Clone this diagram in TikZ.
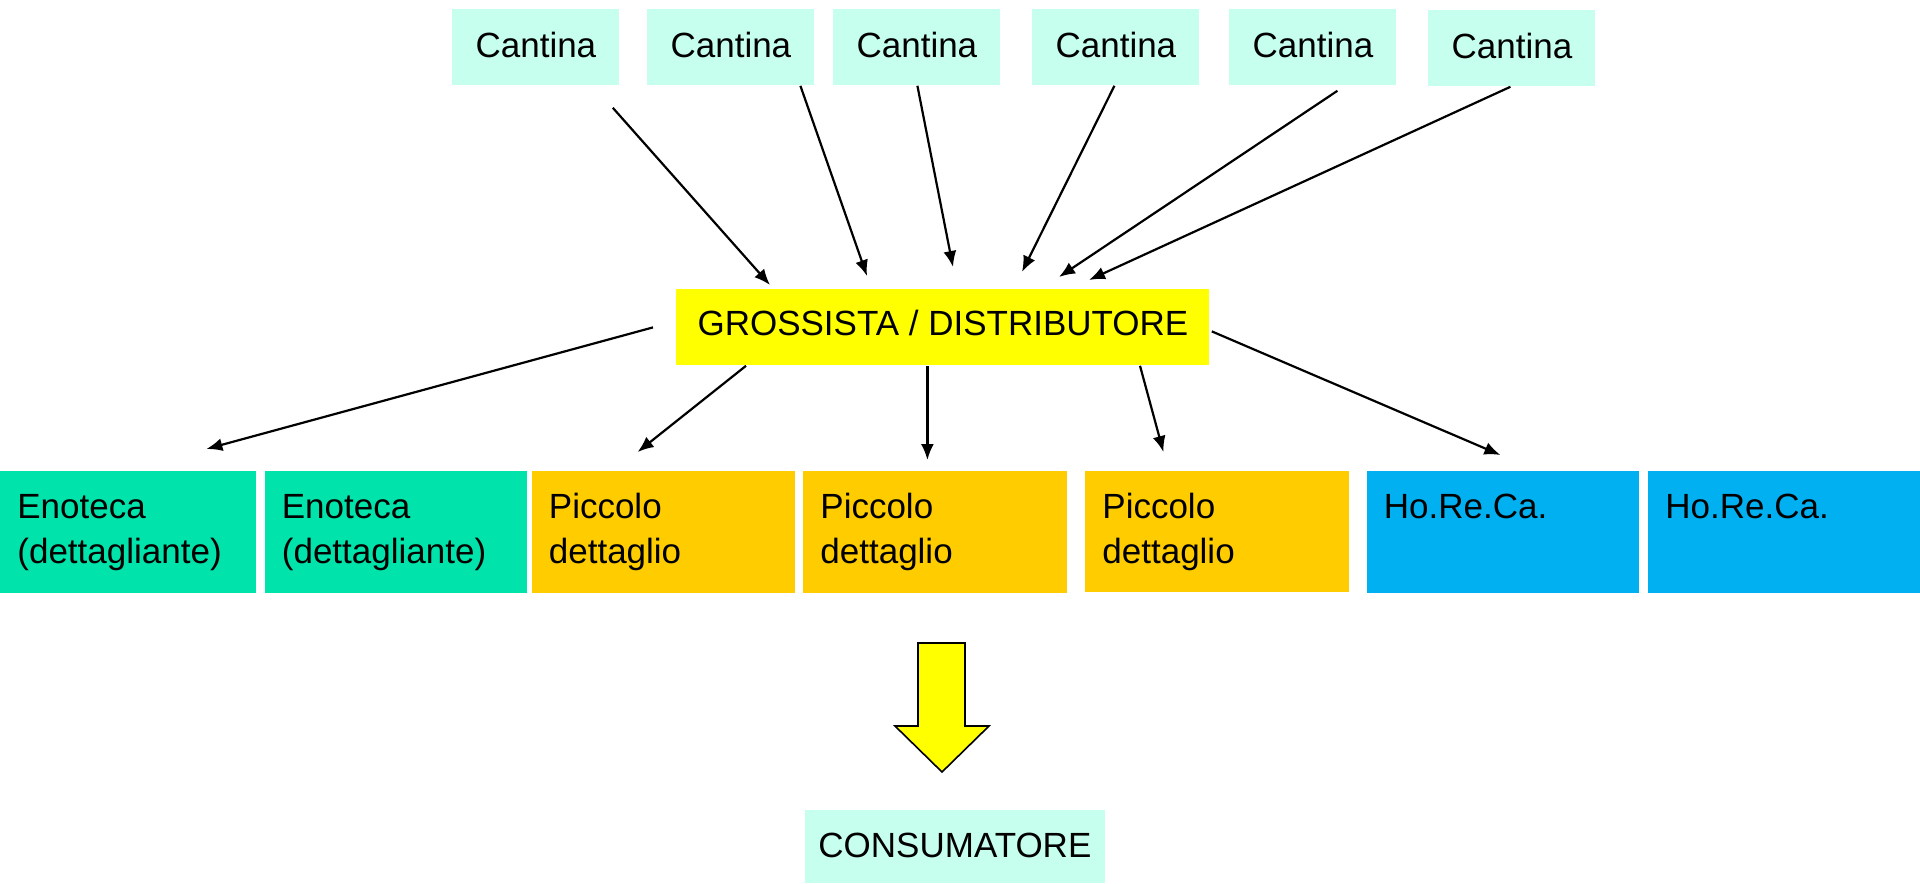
\documentclass[tikz,border=0pt]{standalone}
\usepackage{fontspec}
\setmainfont{Liberation Sans}
\usetikzlibrary{arrows.meta,calc}
\definecolor{mint}{RGB}{198,255,237}
\definecolor{eno}{RGB}{0,227,170}
\definecolor{picc}{RGB}{255,204,0}
\definecolor{horeca}{RGB}{0,176,240}
\definecolor{yel}{RGB}{255,255,0}
\begin{document}
\begin{tikzpicture}[x=0.5pt,y=-0.5pt,
  every node/.style={font=\fontsize{17.5pt}{22.5pt}\selectfont},
  cant/.style={fill=mint, inner sep=0pt, anchor=north west, minimum width=83.5pt, minimum height=38pt, text height=24pt, text depth=14pt},
  lower/.style={anchor=north west, inner xsep=8.5pt, inner ysep=0pt, align=left, text height=23.5pt, text depth=37.5pt},
  arr/.style={-{Latex[length=8pt,width=6.5pt]}, line width=1.1pt},
]
\useasboundingbox (0,0) rectangle (1920,883);

% top row
\node[cant] (c1) at (452,9) {Cantina};
\node[cant] (c2) at (647,9) {Cantina};
\node[cant] (c3) at (833,9) {Cantina};
\node[cant] (c4) at (1032,9) {Cantina};
\node[cant] (c5) at (1229,9) {Cantina};
\node[cant] (c6) at (1428,10) {Cantina};

% wholesaler
\node[fill=yel, inner sep=0pt, anchor=north west, minimum width=266.5pt, minimum height=38pt, text height=23pt, text depth=15pt] (g) at (676,289) {GROSSISTA / DISTRIBUTORE};

% bottom row
\node[lower, fill=eno, text width=111pt] (e1) at (0,471) {Enoteca\\(dettagliante)};
\node[lower, fill=eno, text width=114pt] (e2) at (264.5,471) {Enoteca\\(dettagliante)};
\node[lower, fill=picc, text width=114.75pt] (p1) at (531.5,471) {Piccolo\\dettaglio};
\node[lower, fill=picc, text width=114.75pt] (p2) at (803,471) {Piccolo\\dettaglio};
\node[lower, fill=picc, text width=115pt, text depth=37pt] (p3) at (1085,471) {Piccolo\\dettaglio};
\node[lower, fill=horeca, text width=119pt] (h1) at (1366.5,471) {Ho.Re.Ca.};
\node[lower, fill=horeca, text width=119pt] (h2) at (1648,471) {Ho.Re.Ca.};

% consumer
\node[fill=mint, inner sep=0pt, anchor=north west, minimum width=150pt, minimum height=36.5pt, text height=23.35pt, text depth=13.15pt] (cons) at (804.5,810) {CONSUMATORE};

% arrows cantina -> grossista
\draw[arr] ($(c1.south east)+(-7,22)$) -- ($(g.north west)+(94,-4)$);
\draw[arr] ($(c2.south)+(69.5,0)$) -- ($(g.north west)+(191,-13)$);
\draw[arr] ($(c3.south)+(0.5,0)$) -- ($(g.north west)+(277,-22)$);
\draw[arr] ($(c4.south)+(-1.5,0)$) -- ($(g.north west)+(346,-17)$);
\draw[arr] ($(c5.south)+(24.5,5)$) -- ($(g.north west)+(383,-12)$);
\draw[arr] ($(c6.south)+(-1.5,0)$) -- ($(g.north west)+(413,-9)$);

% arrows grossista -> retail
\draw[arr] ($(g.west)+(-23,0)$) -- ($(e1.north)+(78,-22)$);
\draw[arr] ($(g.south west)+(70,0)$) -- ($(p1.north)+(-26,-19)$);
\draw[arr] ($(g.south)+(-15.5,0)$) -- ($(p2.north)+(-7.75,-11)$);
\draw[arr] ($(g.south west)+(464,0)$) -- ($(p3.north)+(-54,-19)$);
\draw[arr] ($(g.east)+(2,4)$) -- ($(h1.north)+(-2.5,-16)$);

% big yellow arrow
\draw[fill=yel, line width=0.8pt, line join=miter]
  (918,643) -- (965,643) -- (965,726) -- (989,726) -- (942,772) -- (895,726) -- (918,726) -- cycle;
\end{tikzpicture}
\end{document}
